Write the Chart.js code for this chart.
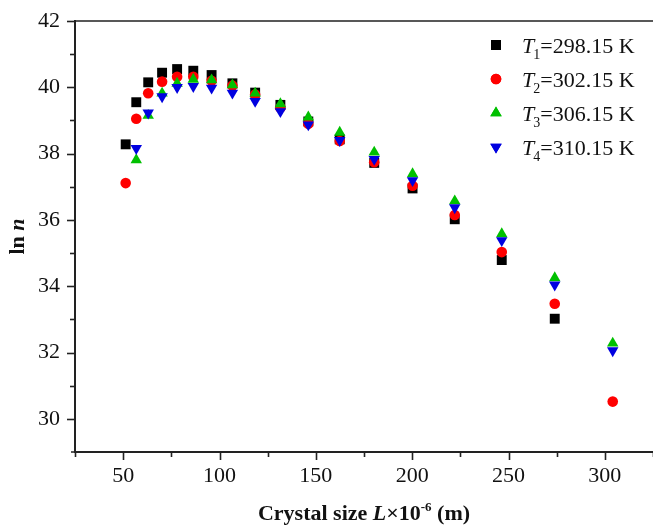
<!DOCTYPE html>
<html>
<head>
<meta charset="utf-8">
<script src="https://cdn.jsdelivr.net/npm/chart.js@4.4.0/dist/chart.umd.min.js"></script>
<style>
  html, body { margin: 0; padding: 0; background: #fff; }
  #wrap { width: 653px; height: 530px; }
</style>
</head>
<body>
<div id="wrap"><canvas id="chart" width="653" height="530"></canvas></div>
<script>
// crystal size L (x 10^-6 m)
const crystalSize = [51.3, 56.8, 63.0, 70.2, 78.0, 86.4, 95.9, 106.7, 118.5, 131.6, 146.1, 162.4, 180.3, 200.2, 222.1, 246.5, 274.0, 304.1];

// ln n for each temperature (null = no point at that size)
const lnT1 = [38.28, 39.55, 40.15, 40.44, 40.55, 40.50, 40.37, 40.12, 39.84, 39.47, 38.97, 38.43, 37.72, 36.95, 36.02, 34.79, 33.02, null];
const lnT2 = [37.11, 39.05, 39.82, 40.17, 40.32, 40.32, 40.20, 40.05, 39.78, 39.38, 38.90, 38.38, 37.74, 37.03, 36.15, 35.03, 33.47, 30.52];
const lnT3 = [null, 37.81, 39.15, 39.82, 40.12, 40.24, 40.22, 40.07, 39.82, 39.50, 39.10, 38.64, 38.04, 37.39, 36.57, 35.58, 34.25, 32.28];
const lnT4 = [null, 38.16, 39.23, 39.72, 40.00, 40.03, 39.98, 39.83, 39.58, 39.27, 38.87, 38.40, 37.83, 37.19, 36.37, 35.38, 34.04, 32.06];

const tempLabels = ['298.15', '302.15', '306.15', '310.15'];
const xTickLabels = [50, 100, 150, 200, 250, 300];
const yTickLabels = [30, 32, 34, 36, 38, 40, 42];

const seriesColors = ['#000000', '#ff0000', '#00c000', '#0000e0'];
const seriesStyles = ['rect', 'circle', 'triangle', 'triangle'];
const seriesRotation = [0, 0, 0, 180];
const seriesRadius = [7, 5.3, 6.6, 6.6];

const serif = "'Liberation Serif', 'Times New Roman', serif";
const axisColor = '#222';

function toPoints(values) {
    const pts = [];
    values.forEach((v, i) => {
        if (v !== null) pts.push({ x: crystalSize[i], y: v });
    });
    return pts;
}

const allSeries = [lnT1, lnT2, lnT3, lnT4];
const datasets = allSeries.map((vals, i) => ({
    label: 'T' + (i + 1) + '=' + tempLabels[i] + ' K',
    data: toPoints(vals),
    pointStyle: seriesStyles[i],
    rotation: seriesRotation[i],
    pointRadius: seriesRadius[i],
    pointHoverRadius: seriesRadius[i],
    backgroundColor: seriesColors[i],
    borderColor: seriesColors[i],
    borderWidth: 0,
    order: 4 - i // later temperatures drawn on top
}));

// no extra label padding, so the plot area is exactly where the figure has it
function fixBox(w, h) {
    return s => {
        if (w) s.width = w;
        if (h) s.height = h;
        s.paddingLeft = s.paddingRight = s.paddingTop = s.paddingBottom = 0;
    };
}

// draws ticks, top frame line, legend and rich-text axis titles
const decorPlugin = {
    id: 'decor',
    afterDraw(chart) {
        const ctx = chart.ctx;
        const a = chart.chartArea;
        const xs = chart.scales.x;
        const ys = chart.scales.y;
        ctx.save();
        ctx.strokeStyle = axisColor;
        ctx.lineWidth = 1.6;

        // top frame line, small overhang of the x axis on the left
        ctx.beginPath();
        ctx.moveTo(a.left, a.top);
        ctx.lineTo(a.right, a.top);
        ctx.moveTo(a.left - 4, a.bottom);
        ctx.lineTo(a.left, a.bottom);
        ctx.stroke();

        // x ticks (major / minor)
        xs.ticks.forEach(t => {
            const px = Math.round(xs.getPixelForValue(t.value)) + 0.5;
            const len = xTickLabels.includes(t.value) ? 8 : 5;
            ctx.beginPath();
            ctx.moveTo(px, a.bottom);
            ctx.lineTo(px, a.bottom + len);
            ctx.stroke();
        });
        // y ticks
        ys.ticks.forEach(t => {
            if (t.value === ys.min) return;
            const py = Math.round(ys.getPixelForValue(t.value)) + 0.5;
            const len = yTickLabels.includes(t.value) ? 8 : 5;
            ctx.beginPath();
            ctx.moveTo(a.left, py);
            ctx.lineTo(a.left - len, py);
            ctx.stroke();
        });

        // legend
        const legX = 496, legTextX = 522, legY0 = 45, legStep = 34;
        ctx.textBaseline = 'alphabetic';
        ctx.textAlign = 'left';
        tempLabels.forEach((lab, i) => {
            const y = legY0 + i * legStep;
            ctx.fillStyle = seriesColors[i];
            ctx.strokeStyle = seriesColors[i];
            ctx.lineWidth = 0;
            Chart.helpers.drawPoint(ctx, {
                pointStyle: seriesStyles[i],
                radius: seriesRadius[i],
                rotation: seriesRotation[i],
                borderWidth: 0
            }, legX, y);
            ctx.fill();

            ctx.fillStyle = '#111';
            let x = legTextX;
            const base = y + 7.5;
            ctx.font = 'italic 22px ' + serif;
            ctx.fillText('T', x, base);
            x += ctx.measureText('T').width - 1;
            ctx.font = '14px ' + serif;
            ctx.fillText(String(i + 1), x, base + 6);
            x += ctx.measureText(String(i + 1)).width;
            ctx.font = '22px ' + serif;
            ctx.fillText('=' + lab + ' K', x, base);
        });

        // x axis title: Crystal size L×10^-6 (m)
        const parts = [
            { t: 'Crystal size ', f: 'bold 22px ', dy: 0 },
            { t: 'L', f: 'italic bold 22px ', dy: 0 },
            { t: '\u00d710', f: 'bold 22px ', dy: 0 },
            { t: '-6', f: 'bold 13px ', dy: -9 },
            { t: ' (m)', f: 'bold 22px ', dy: 0 }
        ];
        let total = 0;
        parts.forEach(p => { ctx.font = p.f + serif; p.w = ctx.measureText(p.t).width; total += p.w; });
        let cx = (a.left + a.right) / 2 - total / 2;
        const tb = 520;
        ctx.fillStyle = '#111';
        parts.forEach(p => {
            ctx.font = p.f + serif;
            ctx.fillText(p.t, cx, tb + p.dy);
            cx += p.w;
        });

        // y axis title: ln n
        ctx.translate(24, (a.top + a.bottom) / 2);
        ctx.rotate(-Math.PI / 2);
        ctx.font = 'bold 22px ' + serif;
        const w1 = ctx.measureText('ln ').width;
        ctx.font = 'italic bold 22px ' + serif;
        const w2 = ctx.measureText('n').width;
        let yx = -(w1 + w2) / 2;
        ctx.font = 'bold 22px ' + serif;
        ctx.fillText('ln ', yx, 0);
        ctx.font = 'italic bold 22px ' + serif;
        ctx.fillText('n', yx + w1, 0);

        ctx.restore();
    }
};

new Chart(document.getElementById('chart').getContext('2d'), {
    type: 'scatter',
    data: { datasets: datasets },
    options: {
        responsive: false,
        animation: false,
        layout: { autoPadding: false, padding: { top: 21, right: 0, left: 0, bottom: 0 } },
        plugins: {
            legend: { display: false },
            tooltip: { enabled: false }
        },
        scales: {
            x: {
                type: 'linear',
                min: 25,
                max: 325,
                afterFit: fixBox(0, 78),
                grid: { display: false, drawTicks: false },
                border: { display: true, color: axisColor, width: 2 },
                ticks: {
                    stepSize: 25,
                    autoSkip: false,
                    maxRotation: 0,
                    padding: 11,
                    color: '#111',
                    font: { family: serif, size: 22 },
                    callback: v => xTickLabels.includes(v) ? String(v) : ''
                }
            },
            y: {
                type: 'linear',
                min: 29,
                max: 42,
                afterFit: fixBox(75, 0),
                grid: { display: false, drawTicks: false },
                border: { display: true, color: axisColor, width: 2 },
                ticks: {
                    stepSize: 1,
                    autoSkip: false,
                    padding: 15,
                    color: '#111',
                    font: { family: serif, size: 22 },
                    callback: v => yTickLabels.includes(v) ? String(v) : ''
                }
            }
        }
    },
    plugins: [decorPlugin]
});
</script>
</body>
</html>
